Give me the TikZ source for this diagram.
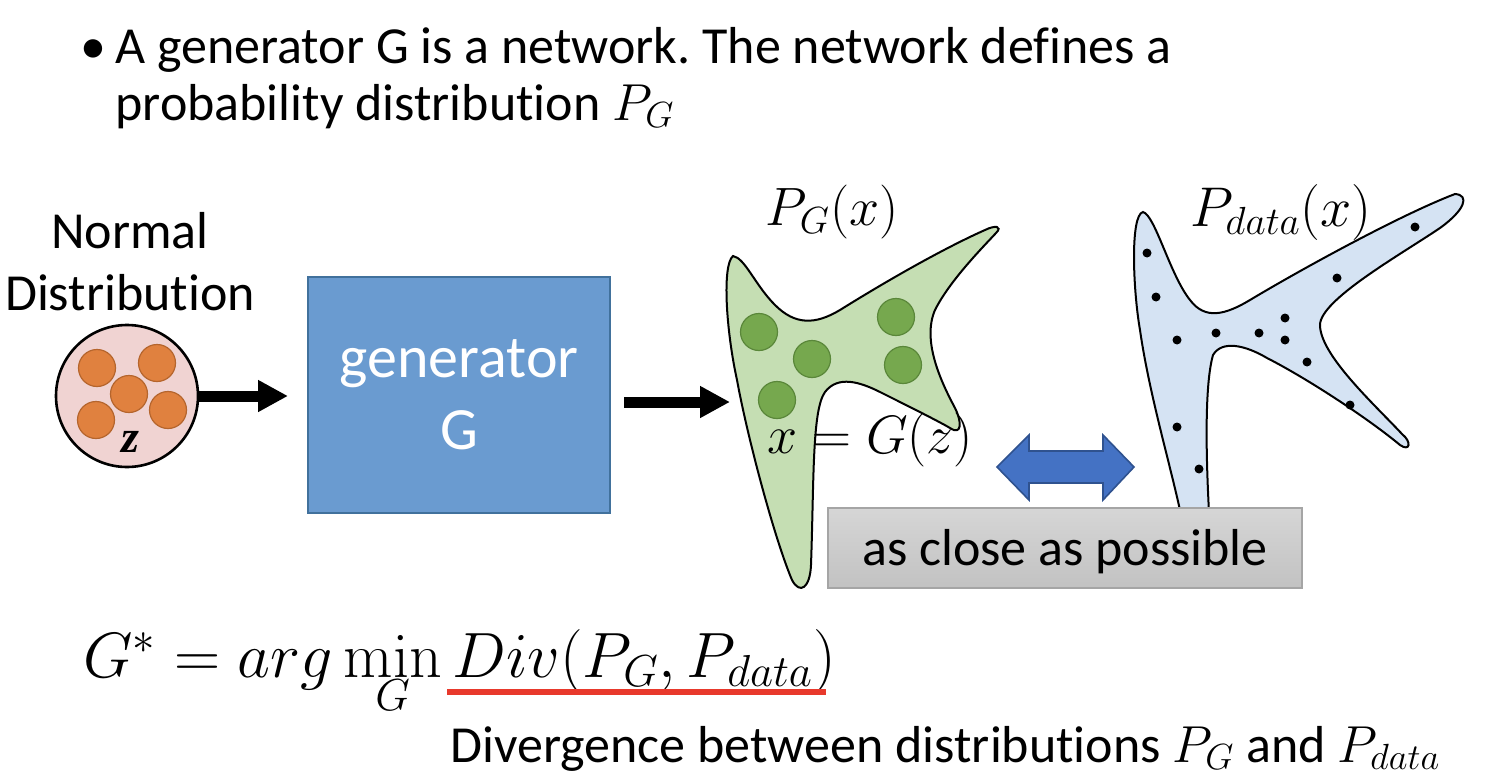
\RequirePackage{fix-cm}
\documentclass[tikz,border=0pt]{standalone}
\usepackage[no-math]{fontspec}
\setmainfont{Carlito}[Ligatures=NoCommon]
\newfontfamily\zfont{Liberation Serif}
\usetikzlibrary{arrows.meta}
\definecolor{boxblue}{HTML}{6A9BD0}
\definecolor{boxblueedge}{HTML}{41719C}
\definecolor{pinkfill}{HTML}{F0D3D2}
\definecolor{orangefill}{HTML}{E0813F}
\definecolor{orangeedge}{HTML}{B5652D}
\definecolor{greenfill}{HTML}{C5DEB3}
\definecolor{greendot}{HTML}{76A84E}
\definecolor{greendotedge}{HTML}{5A873A}
\definecolor{datafill}{HTML}{D5E3F3}
\definecolor{arrowblue}{HTML}{4472C4}
\definecolor{arrowblueedge}{HTML}{2F528F}
\definecolor{graytop}{HTML}{D6D6D6}
\definecolor{graybot}{HTML}{C2C2C2}
\definecolor{grayedge}{HTML}{A5A5A5}
\definecolor{redline}{HTML}{E8392C}
\begin{document}
\frenchspacing
\begin{tikzpicture}[x=0.5pt,y=-0.5pt,
  txt/.style={inner sep=0pt,font=\fontsize{26}{31}\selectfont},
  zcirc/.style={circle,draw=black,line width=1.3pt,fill=pinkfill,minimum size=71pt,inner sep=0pt},
  odot/.style={circle,draw=orangeedge,line width=0.6pt,fill=orangefill,minimum size=18.5pt,inner sep=0pt},
  gdot/.style={circle,draw=greendotedge,line width=0.6pt,fill=greendot,minimum size=18.5pt,inner sep=0pt},
  ddot/.style={circle,fill=black,minimum size=4.5pt,inner sep=0pt},
  genbox/.style={rectangle,fill=boxblue,draw=boxblueedge,line width=1pt,minimum width=151pt,minimum height=118pt,text=white,align=center,font=\fontsize{30}{36}\selectfont,inner sep=0pt},
  closebox/.style={rectangle,top color=graytop,bottom color=graybot,draw=grayedge,line width=0.8pt,minimum width=237pt,minimum height=40pt,inner sep=0pt,text height=22pt,text depth=5pt,font=\fontsize{26}{31}\selectfont},
  bigarrow/.style={line width=5.5pt,-{Triangle[length=15pt,width=15pt]}},
  blob/.style={draw=black,line width=1pt},
  zstyle/.style={inner sep=0pt,font=\zfont\bfseries\itshape\fontsize{23}{27}\selectfont},
]
\useasboundingbox (0,0) rectangle (1488,776);

% top bullet text
\node[txt,anchor=base west] (bullet) at (80,63) {•};
\node[txt,anchor=base west] (line1) at (115,63) {A generator G is a network. The network defines a};
\node[txt,anchor=base west] (line2) at (115,120) {probability distribution $P_G$};

% normal distribution
\node[txt,anchor=base] (nd1) at (130,248) {Normal};
\node[txt,anchor=base] (nd2) at (130,310) {Distribution};
\node[zcirc] (zc) at (127,396) {};
\node[odot] (o1) at (97,368) {};
\node[odot] (o2) at (157,363) {};
\node[odot] (o3) at (129,394) {};
\node[odot] (o4) at (96,420) {};
\node[odot] (o5) at (168,410) {};
\node[zstyle] (zlab) at (130,442) {z};

% generator
\node[genbox] (gen) at (459,395) {generator\\G};
\coordinate (pgin) at (730,402);
\draw[bigarrow,shorten >=9.5pt] (zc.east) -- (zc.east -| gen.west);
\draw[bigarrow,shorten <=6.5pt] (gen.east |- pgin) -- (pgin);

% green distribution P_G
\path[blob,fill=greenfill] (733,256)
  .. controls (722,265) and (726,330) .. (737,380)
  .. controls (748,440) and (775,540) .. (792,580)
  .. controls (800,595) and (810,588) .. (811,565)
  .. controls (814,480) and (812,410) .. (825,392)
  .. controls (838,375) and (860,382) .. (880,392)
  .. controls (910,407) and (940,422) .. (950,428)
  .. controls (962,436) and (962,422) .. (955,408)
  .. controls (940,380) and (922,340) .. (935,310)
  .. controls (950,280) and (985,245) .. (996,233)
  .. controls (1003,226) and (995,225) .. (985,230)
  .. controls (940,250) and (880,285) .. (840,310)
  .. controls (815,325) and (795,325) .. (775,305)
  .. controls (755,285) and (745,258) .. cycle;
\node[gdot] (g1) at (759,332) {};
\node[gdot] (g2) at (812,359) {};
\node[gdot] (g3) at (777,400) {};
\node[gdot] (g4) at (896,317) {};
\node[gdot] (g5) at (903,365) {};
\node[inner sep=0pt,font=\fontsize{27}{32}\selectfont] (pglab) at (832,212) {$P_G(x)$};
\node[inner sep=0pt,font=\fontsize{27}{32}\selectfont] (xgz) at (870,440) {$x=G(z)$};

% blue distribution P_data
\path[blob,fill=datafill] (1143,212)
  .. controls (1130,215) and (1133,290) .. (1140,330)
  .. controls (1150,400) and (1175,480) .. (1184,530)
  -- (1210,530)
  .. controls (1207,480) and (1203,390) .. (1213,355)
  .. controls (1222,340) and (1245,345) .. (1267,358)
  .. controls (1310,380) and (1370,420) .. (1400,445)
  .. controls (1410,452) and (1412,442) .. (1402,434)
  .. controls (1375,405) and (1320,355) .. (1320,325)
  .. controls (1320,300) and (1400,255) .. (1440,228)
  .. controls (1465,210) and (1470,195) .. (1455,194)
  .. controls (1400,215) and (1300,270) .. (1250,300)
  .. controls (1225,315) and (1205,320) .. (1190,300)
  .. controls (1170,275) and (1155,215) .. cycle;
\foreach \p [count=\i] in {(1147,253),(1156,297),(1177,340),(1216,333),(1259,333),(1285,318),(1285,340),(1307,362),(1337,278),(1415,227),(1350,405),(1177,427),(1199,469)}
  \node[ddot] (dd\i) at \p {};
\node[inner sep=0pt,font=\fontsize{28}{33}\selectfont] (pdlab) at (1281,212) {$P_{data}(x)$};

% double arrow
\path[fill=arrowblue,draw=arrowblueedge,line width=0.8pt]
  (997,467) -- (1029,435) -- (1029,451) -- (1103,451) -- (1103,435) -- (1134,467)
  -- (1103,500) -- (1103,483) -- (1029,483) -- (1029,500) -- cycle;

% as close as possible
\node[closebox] (close) at (1065,548) {as close as possible};

% formula
\node[inner sep=0pt,anchor=base west,font=\fontsize{32}{38}\selectfont] (formula) at (83,677)
  {$G^*=arg\min\limits_G Div(P_G,P_{data})$};
\draw[redline,line width=2.6pt] (447,692) -- (826,692);

% bottom text
\node[txt,anchor=base west] (divtxt) at (450,762) {Divergence between distributions $P_G$ and $P_{data}$};
\end{tikzpicture}
\end{document}
